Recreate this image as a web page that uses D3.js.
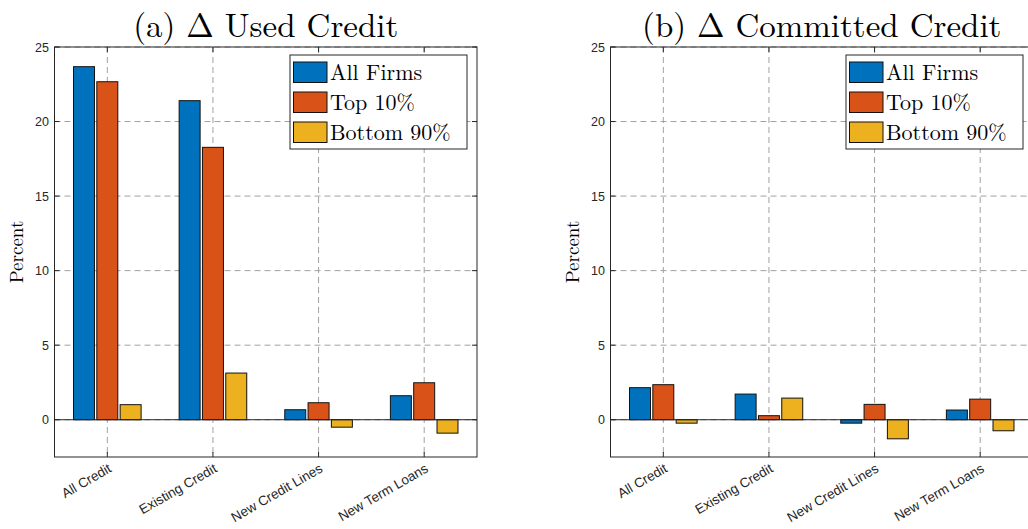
<!DOCTYPE html>
<html>
<head>
<meta charset="utf-8">
<script src="https://cdn.jsdelivr.net/npm/d3@7"></script>
<style>
  html, body { margin: 0; padding: 0; background: #fff; }
  svg { display: block; }
</style>
</head>
<body>
<svg id="chart" width="1028" height="529"></svg>
<script>
// Categories and series
const categories = ["All Credit", "Existing Credit", "New Credit Lines", "New Term Loans"];
const seriesNames = ["All Firms", "Top 10%", "Bottom 90%"];
const seriesColors = ["#0072BD", "#D95319", "#EDB120"];

// (a) change in used credit, percent
const usedAll    = [23.68, 21.40, 0.67, 1.61];
const usedTop    = [22.67, 18.27, 1.14, 2.48];
const usedBottom = [1.01, 3.13, -0.50, -0.90];

// (b) change in committed credit, percent
const committedAll    = [2.15, 1.72, -0.23, 0.65];
const committedTop    = [2.35, 0.27, 1.03, 1.38];
const committedBottom = [-0.23, 1.45, -1.28, -0.74];

const yTicks = [0, 5, 10, 15, 20, 25];
const yDomain = [-2.5, 25];

const svg = d3.select("#chart");
const serif = "'Latin Modern Roman', 'Liberation Serif', 'DejaVu Serif', serif";
const sans = "'Liberation Sans', Arial, Helvetica, sans-serif";
const axisColor = "#262626";

const panels = [
  { title: "(a) \u0394 Used Credit", series: [usedAll, usedTop, usedBottom], left: 54.5 },
  { title: "(b) \u0394 Committed Credit", series: [committedAll, committedTop, committedBottom], left: 610.5 }
];

const plotW = 422.5, plotTop = 47, plotBottom = 457;

panels.forEach((p, pi) => {
  const g = svg.append("g");
  const x0 = p.left, x1 = p.left + plotW;

  const x = d3.scalePoint().domain(categories).range([x0, x1]).padding(0.5);
  const step = x.step();
  const xs = d3.scaleBand().domain(seriesNames)
    .range([-0.32 * step, 0.32 * step]).paddingInner(0.1);
  const y = d3.scaleLinear().domain(yDomain).range([plotBottom, plotTop]);

  // dashed grid
  const grid = g.append("g").attr("stroke", "#a0a0a0").attr("stroke-width", 1)
    .attr("stroke-dasharray", "6,4").attr("fill", "none");
  categories.forEach(c => {
    grid.append("line").attr("x1", x(c)).attr("x2", x(c)).attr("y1", plotTop).attr("y2", plotBottom);
  });
  yTicks.forEach(t => {
    grid.append("line").attr("x1", x0).attr("x2", x1).attr("y1", y(t)).attr("y2", y(t));
  });

  // bars
  seriesNames.forEach((s, si) => {
    g.append("g").selectAll("rect")
      .data(categories.map((c, ci) => ({ c, v: p.series[si][ci] })))
      .join("rect")
      .attr("x", d => x(d.c) + xs(s))
      .attr("width", xs.bandwidth())
      .attr("y", d => y(Math.max(0, d.v)))
      .attr("height", d => Math.abs(y(d.v) - y(0)))
      .attr("fill", seriesColors[si])
      .attr("stroke", "#111")
      .attr("stroke-width", 1);
  });

  // zero baseline
  g.append("line").attr("x1", x0).attr("x2", x1).attr("y1", y(0)).attr("y2", y(0))
    .attr("stroke", axisColor).attr("stroke-width", 1);

  // axes box
  g.append("rect").attr("x", x0).attr("y", plotTop).attr("width", x1 - x0).attr("height", plotBottom - plotTop)
    .attr("fill", "none").attr("stroke", axisColor).attr("stroke-width", 1);

  // ticks (inward, on all four sides)
  const tl = 5;
  const ticks = g.append("g").attr("stroke", axisColor).attr("stroke-width", 1);
  categories.forEach(c => {
    ticks.append("line").attr("x1", x(c)).attr("x2", x(c)).attr("y1", plotBottom).attr("y2", plotBottom - tl);
    ticks.append("line").attr("x1", x(c)).attr("x2", x(c)).attr("y1", plotTop).attr("y2", plotTop + tl);
  });
  yTicks.forEach(t => {
    ticks.append("line").attr("x1", x0).attr("x2", x0 + tl).attr("y1", y(t)).attr("y2", y(t));
    ticks.append("line").attr("x1", x1).attr("x2", x1 - tl).attr("y1", y(t)).attr("y2", y(t));
  });

  // y tick labels
  g.append("g").selectAll("text").data(yTicks).join("text")
    .attr("x", x0 - 5.5).attr("y", d => y(d)).attr("dy", "0.36em")
    .attr("text-anchor", "end").attr("font-family", sans).attr("font-size", 12.5)
    .attr("fill", axisColor).text(d => d);

  // x tick labels, rotated
  g.append("g").selectAll("text").data(categories).join("text")
    .attr("transform", d => `translate(${x(d) + 5},${plotBottom + 14}) rotate(-30)`)
    .attr("text-anchor", "end")
    .attr("font-family", sans).attr("font-size", 13.5)
    .attr("fill", axisColor).text(d => d);

  // y axis title
  g.append("text")
    .attr("transform", `translate(${x0 - 32},${(plotTop + plotBottom) / 2}) rotate(-90)`)
    .attr("text-anchor", "middle").attr("font-family", serif).attr("font-size", 19)
    .attr("fill", "#000").text("Percent");

  // panel title
  g.append("text").attr("x", (x0 + x1) / 2).attr("y", 37)
    .attr("text-anchor", "middle").attr("font-family", serif).attr("font-size", 33)
    .attr("fill", "#000").text(p.title);

  // legend
  const lx = x0 + 235.5, ly = 55;
  const lg = g.append("g");
  lg.append("rect").attr("x", lx).attr("y", ly).attr("width", 177).attr("height", 94)
    .attr("fill", "#fff").attr("stroke", axisColor).attr("stroke-width", 1);
  seriesNames.forEach((s, si) => {
    const ry = ly + 7 + si * 30;
    lg.append("rect").attr("x", lx + 3.5).attr("y", ry).attr("width", 33.5).attr("height", 20.5)
      .attr("fill", seriesColors[si]).attr("stroke", "#111").attr("stroke-width", 1);
    lg.append("text").attr("x", lx + 40).attr("y", ry + 17.5)
      .attr("font-family", serif).attr("font-size", 22).attr("fill", "#000").text(s);
  });
});
</script>
</body>
</html>
